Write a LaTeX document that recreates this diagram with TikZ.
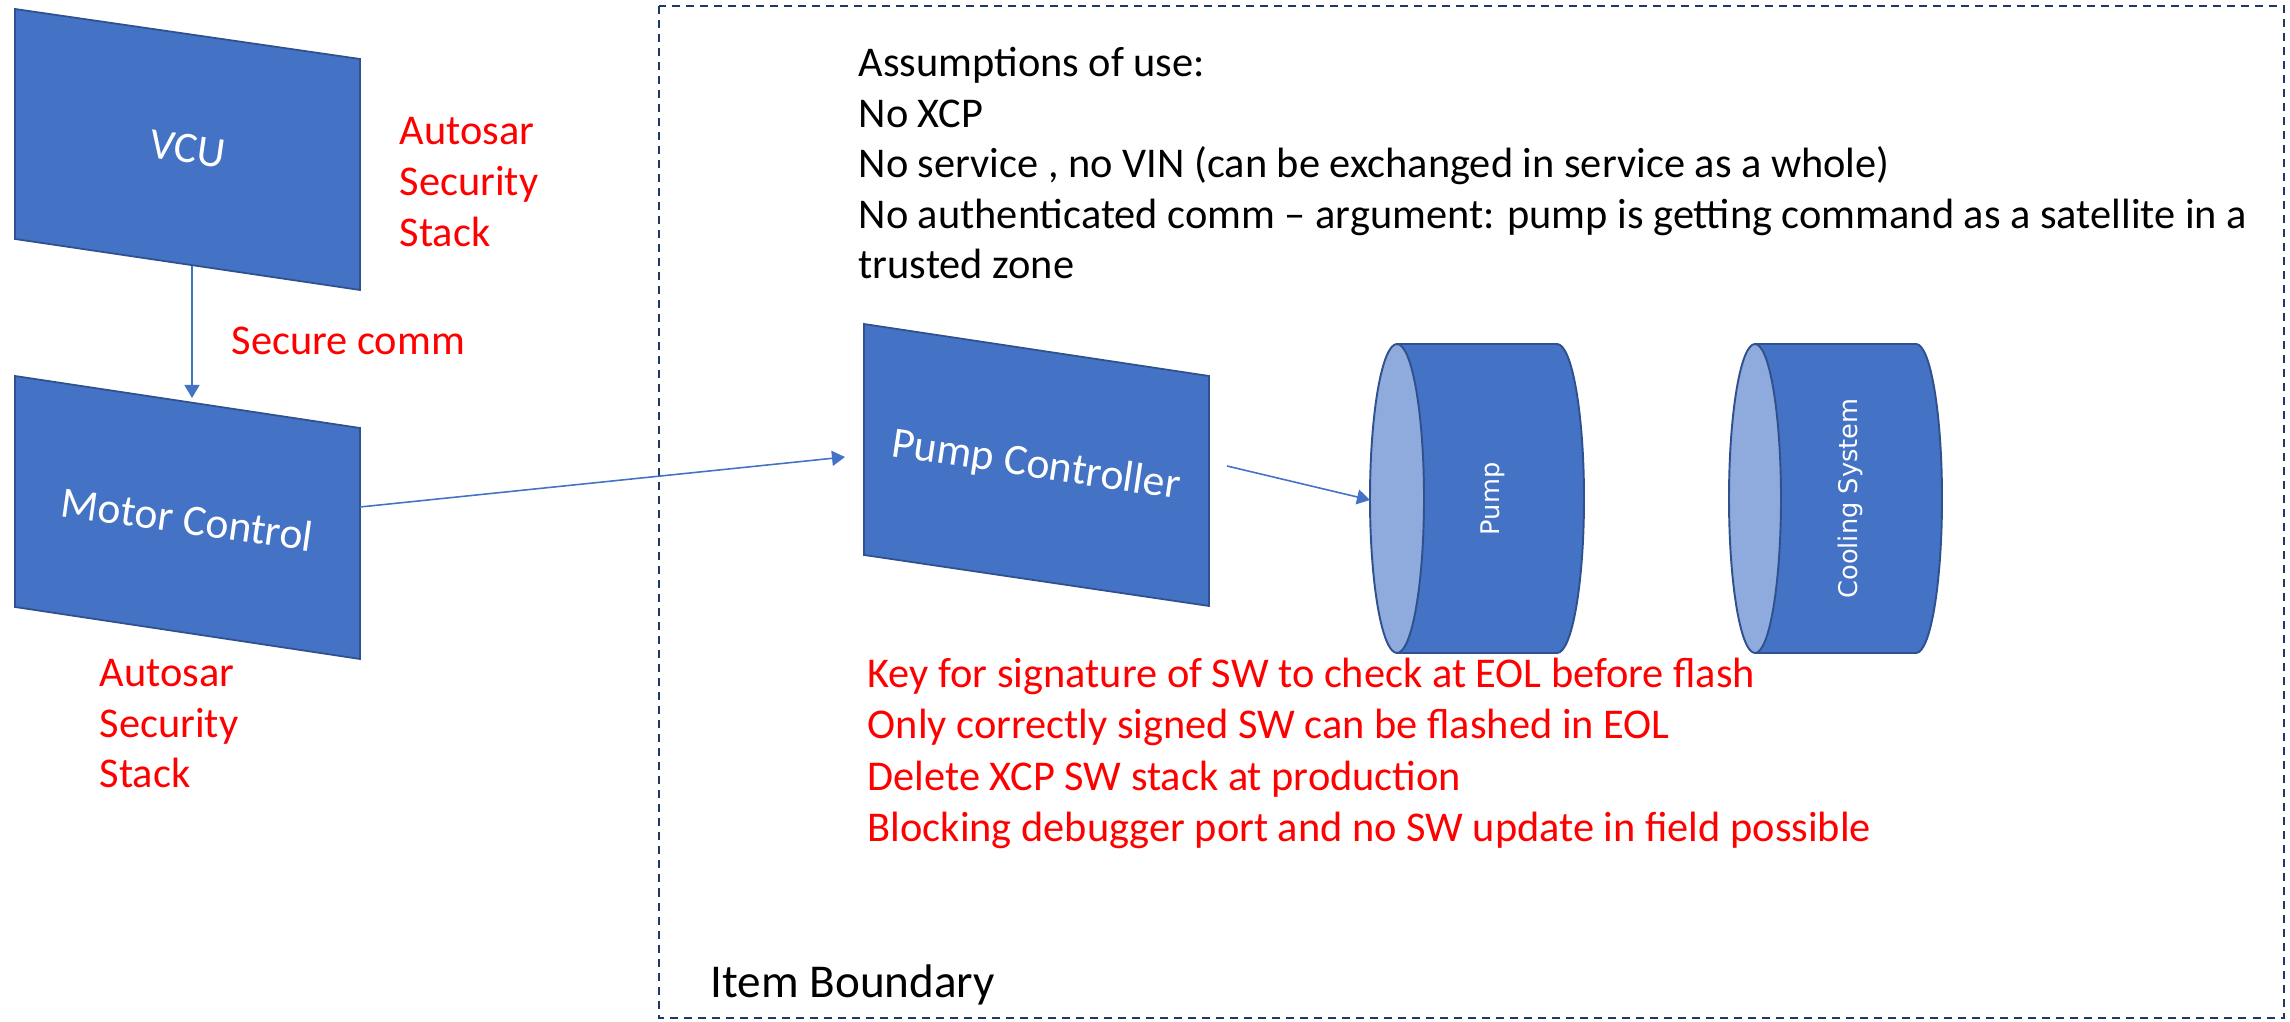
\documentclass[tikz,border=0pt]{standalone}
\usepackage{fontspec}
\setmainfont{Carlito}
\newfontfamily\cylfont{DejaVu Sans}
\usetikzlibrary{arrows.meta}
\definecolor{boxblue}{HTML}{4472C4}
\definecolor{boxedge}{HTML}{2F528F}
\definecolor{faceblue}{HTML}{8FAADC}
\definecolor{navyline}{HTML}{203864}
\definecolor{redtxt}{HTML}{FF0000}
\begin{document}
\begin{tikzpicture}[x=0.01cm,y=-0.01cm,
  ecu/.style={fill=boxblue,draw=boxedge,line width=0.5pt,line join=miter},
  ecutext/.style={text=white,font=\fontsize{12.4}{14.5}\selectfont,rotate=-8,inner sep=0pt},
  redt/.style={text=redtxt,font=\fontsize{12.05}{14.4}\selectfont,anchor=base west,inner sep=0pt},
  blackt/.style={text=black,font=\fontsize{12.05}{14.4}\selectfont,anchor=base west,inner sep=0pt},
  conn/.style={draw=boxblue,line width=0.45pt,-{Triangle[length=0.13cm,width=0.15cm]}},
  cyledge/.style={draw=boxedge,line width=0.55pt},
  cyltext/.style={text=white,font=\cylfont\fontsize{7.3}{8.6}\selectfont,rotate=90,inner sep=0pt},
  boundary/.style={draw=navyline,line width=0.55pt,dash pattern=on 0.08cm off 0.06cm}
]
\useasboundingbox (0,0) rectangle (2290,1022);

% item boundary
\draw[boundary] (659,6) rectangle (2284,1018);
\node[blackt,font=\fontsize{13.4}{16}\selectfont] (itemb) at (710,998) {Item Boundary};

% ECU parallelograms
\draw[ecu] (15,9) -- (360,59) -- (360,290) -- (15,239) -- cycle;
\node[ecutext] (vcu) at (187.5,149) {VCU};
\draw[ecu] (15,376) -- (360,428) -- (360,659) -- (15,607) -- cycle;
\node[ecutext] (mc) at (187.5,519) {Motor Control};
\draw[ecu] (864,324) -- (1209,376) -- (1209,606) -- (864,555) -- cycle;
\node[ecutext,rotate=-0.5] (pc) at (1036,466) {Pump Controller};

% cylinders
\foreach \fx/\bx/\rx in {1397/1557/27, 1755/1916/26}{
  \draw[cyledge,fill=boxblue] (\bx,498.5) ellipse [x radius=\rx, y radius=154.5];
  \fill[boxblue] (\fx,344) rectangle (\bx,653);
  \draw[cyledge] (\fx,344) -- (\bx,344);
  \draw[cyledge] (\fx,653) -- (\bx,653);
  \draw[cyledge,fill=faceblue] (\fx,498.5) ellipse [x radius=\rx, y radius=154.5];
}
\node[cyltext] (pump) at (1493,499) {Pump};
\node[cyltext] (cool) at (1850,498.5) {Cooling System};

% connector end points
\coordinate (vcuout) at (192,266);
\coordinate (mcin) at (192,398);
\coordinate (mcout) at (360,507);
\coordinate (pcin) at (845,457);
\coordinate (pcout) at (1227,466);
\coordinate (pumpin) at (1370,500);

\draw[conn] (vcuout) -- (mcin);
\draw[conn] (mcout) -- (pcin);
\draw[conn] (pcout) -- (pumpin);

% red annotations
\node[redt] (asA1) at (399,145) {Autosar};
\node[redt] (asA2) at (399,196) {Security};
\node[redt] (asA3) at (399,247) {Stack};
\node[redt] (secure) at (231,355) {Secure comm};
\node[redt] (asB1) at (99,687) {Autosar};
\node[redt] (asB2) at (99,738) {Security};
\node[redt] (asB3) at (99,788) {Stack};

% assumptions
\node[blackt] (aou1) at (858,77) {Assumptions of use:};
\node[blackt] (aou2) at (858,128) {No XCP};
\node[blackt] (aou3) at (858,178) {No service , no VIN (can be exchanged in service as a whole)};
\node[blackt] (aou4) at (858,229) {No authenticated comm – argument: pump is getting command as a satellite in a};
\node[blackt] (aou5) at (858,279) {trusted zone};

% measures
\node[redt] (m1) at (867,688) {Key for signature of SW to check at EOL before flash};
\node[redt] (m2) at (867,739) {Only correctly signed SW can be flashed in EOL};
\node[redt] (m3) at (867,791) {Delete XCP SW stack at production};
\node[redt] (m4) at (867,842) {Blocking debugger port and no SW update in field possible};
\end{tikzpicture}
\end{document}
